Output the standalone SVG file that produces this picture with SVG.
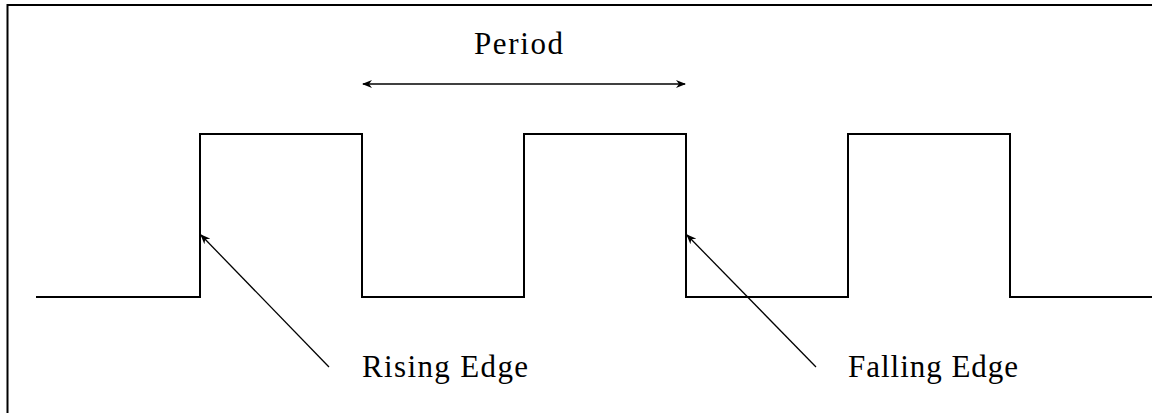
<svg xmlns="http://www.w3.org/2000/svg" width="1152" height="413" viewBox="0 0 1152 413">
<style>
.wave{fill:none;stroke:#000;stroke-width:2}
.conn{fill:none;stroke:#000;stroke-width:1.3}
.lbl{font-family:"Liberation Serif","Times New Roman",serif;font-size:31px;fill:#000}
</style>
<defs>
<marker id="ah" viewBox="0 0 10 10" refX="9" refY="5" markerWidth="10" markerHeight="10" markerUnits="userSpaceOnUse" orient="auto-start-reverse">
<path d="M0,1 L10,5 L0,9 L3,5 Z" fill="#000"/>
</marker>
</defs>
<rect width="1152" height="413" fill="#fff"/>
<rect x="7.5" y="5" width="1160" height="420" fill="none" stroke="#000" stroke-width="2"/>
<g id="waveform">
<path class="wave" d="M36,297 H200 V134 H362 V297 H524 V134 H686 V297 H848 V134 H1010 V297 H1152"/>
</g>
<g id="period">
<text class="lbl" x="474" y="54" textLength="89" lengthAdjust="spacing">Period</text>
</g>
<g id="rising-edge">
<text class="lbl" x="362" y="377" textLength="166" lengthAdjust="spacing">Rising Edge</text>
</g>
<g id="falling-edge">
<text class="lbl" x="848" y="377" textLength="170" lengthAdjust="spacing">Falling Edge</text>
</g>
<g id="connectors">
<line class="conn" x1="363" y1="84" x2="685" y2="84" marker-start="url(#ah)" marker-end="url(#ah)"/>
<line class="conn" x1="329" y1="367" x2="201" y2="235" marker-end="url(#ah)"/>
<line class="conn" x1="816" y1="367" x2="687" y2="235" marker-end="url(#ah)"/>
</g>
</svg>
